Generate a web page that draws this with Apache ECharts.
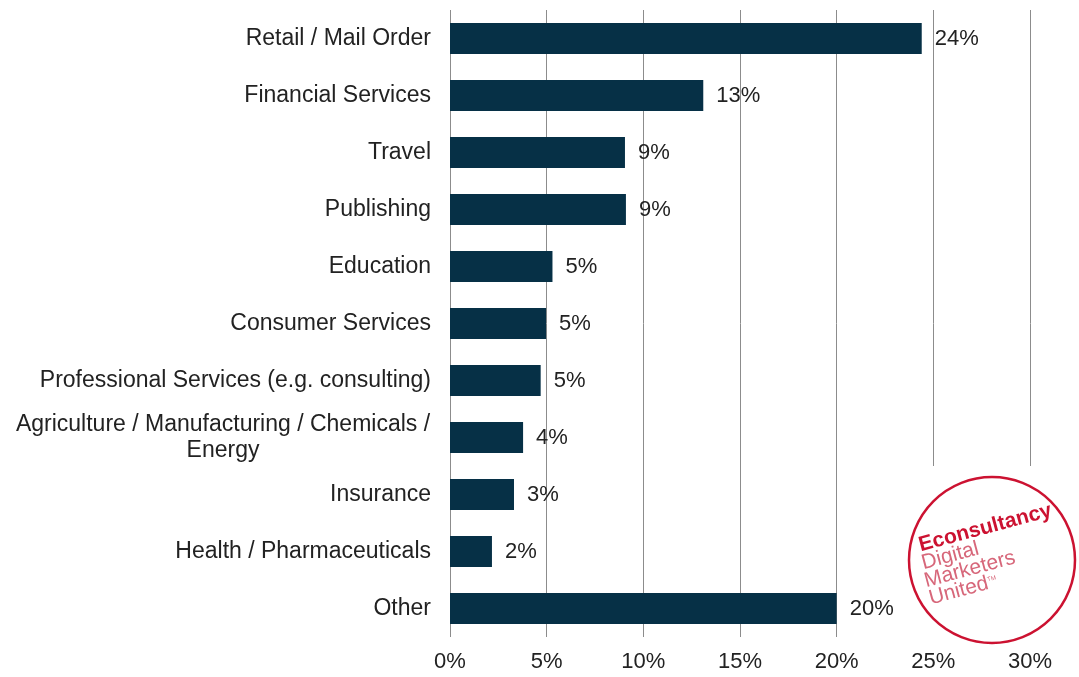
<!DOCTYPE html>
<html>
<head>
<meta charset="utf-8">
<script src="https://cdn.jsdelivr.net/npm/echarts@6/dist/echarts.min.js"></script>
<style>
  html, body { margin: 0; padding: 0; background: #fff; }
  #chart { width: 1079px; height: 677px; }
</style>
</head>
<body>
<div id="chart"></div>
<script>
// categories, top to bottom
const categories = [
  "Retail / Mail Order",
  "Financial Services",
  "Travel",
  "Publishing",
  "Education",
  "Consumer Services",
  "Professional Services (e.g. consulting)",
  "Agriculture / Manufacturing / Chemicals /\nEnergy",
  "Insurance",
  "Health / Pharmaceuticals",
  "Other"
];
// share of respondents (%)
const shares = [24.4, 13.1, 9.05, 9.1, 5.3, 4.97, 4.69, 3.78, 3.31, 2.17, 20.0];
const tickLabels = ["0%", "5%", "10%", "15%", "20%", "25%", "30%"];

const TEXT = "#222222";
const FONT = "Liberation Sans, Arial, sans-serif";
const LOGO_RED = "#cc1231";
const LOGO_PINK = "#d7677a";

// one line of the stamp, y is the text bottom in the rotated frame
function logoLine(text, x, y, font, fill) {
  return {
    type: "text",
    z: 103,
    x: x,
    y: y,
    style: { text: text, fill: fill, font: font, verticalAlign: "bottom" }
  };
}

function init(myChart) {
  const option = {
    animation: false,
    backgroundColor: "#ffffff",
    grid: {
      left: 450,
      right: 49,
      top: 10,
      bottom: 40,
      containLabel: false
    },
    xAxis: {
      type: "value",
      min: 0,
      max: 30,
      interval: 5,
      axisLine: { show: false },
      axisTick: { show: false },
      splitLine: { show: true, lineStyle: { color: "#8c8c8c", width: 1 } },
      axisLabel: {
        margin: 14,
        color: TEXT,
        fontFamily: FONT,
        fontSize: 22,
        formatter: function (v) {
          return tickLabels[Math.round(v / 5)];
        }
      }
    },
    yAxis: {
      type: "category",
      inverse: true,
      data: categories,
      axisLine: { show: false },
      axisTick: { show: false },
      axisLabel: {
        margin: 19,
        color: TEXT,
        fontFamily: FONT,
        fontSize: 23,
        lineHeight: 26,
        formatter: function (v) {
          // the wrapped label is centred on itself, like the original
          if (v.indexOf("\n") >= 0) {
            return v.split("\n").map(function (s) { return "{c|" + s + "}"; }).join("\n");
          }
          return v;
        },
        rich: {
          c: {
            width: 416,
            align: "center",
            color: TEXT,
            fontFamily: FONT,
            fontSize: 23,
            lineHeight: 26
          }
        }
      }
    },
    series: [
      {
        type: "bar",
        data: shares,
        barWidth: 31,
        itemStyle: { color: "#063046" },
        label: {
          show: true,
          position: "right",
          distance: 13,
          color: TEXT,
          fontFamily: FONT,
          fontSize: 22,
          formatter: function (p) {
            return Math.round(p.value) + "%";
          }
        }
      }
    ],
    graphic: [
      {
        type: "rect",
        z: 100,
        shape: { x: 905, y: 466, width: 174, height: 172 },
        style: { fill: "#ffffff" }
      },
      {
        type: "circle",
        z: 101,
        shape: { cx: 992, cy: 560, r: 83 },
        style: { fill: "#ffffff", stroke: LOGO_RED, lineWidth: 2.5 }
      },
      {
        type: "group",
        z: 102,
        x: 921,
        y: 552,
        rotation: 15 * Math.PI / 180,
        children: [
          logoLine("Econsultancy", 0, 4, "bold 21px " + FONT, LOGO_RED),
          logoLine("Digital", -2, 22, "21px " + FONT, LOGO_PINK),
          logoLine("Marketers", -4, 40, "21px " + FONT, LOGO_PINK),
          logoLine("United", -4, 58, "21px " + FONT, LOGO_PINK),
          logoLine("TM", 57, 47, "6px " + FONT, LOGO_PINK)
        ]
      }
    ]
  };

  myChart.setOption(option);
}

const myChart = echarts.init(document.getElementById("chart"));
init(myChart);
</script>
</body>
</html>
